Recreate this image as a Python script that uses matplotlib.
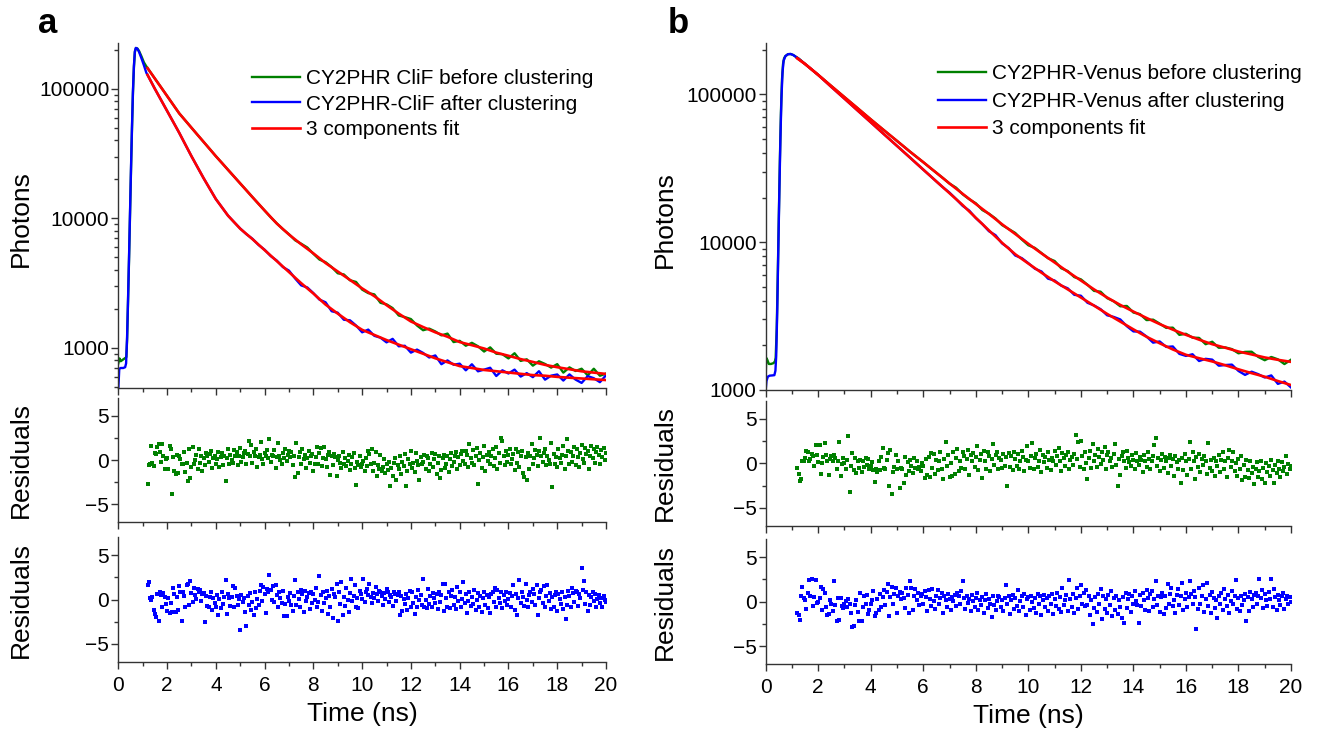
import numpy as np
import matplotlib
matplotlib.use("Agg")
import matplotlib.pyplot as plt
from matplotlib.ticker import FixedLocator, FixedFormatter, LogLocator, MultipleLocator, NullFormatter

plt.rcParams['font.family'] = ['Liberation Sans', 'DejaVu Sans']

GREEN = "#008000"
BLUE = "#0000ff"
RED = "#ff0000"

# ---------------- panel a : CY2PHR-CliF ----------------
# fit curves (ns, photons)
t_fit = [1.2, 1.5, 2.0, 2.5, 3.0, 3.5, 4.0, 4.5, 5.0, 5.5, 6.0, 6.5, 7.0, 7.5, 8.0, 8.5,
         9.0, 9.5, 10.0, 10.5, 11.0, 11.5, 12.0, 12.5, 13.0, 13.5, 14.0, 14.5, 15.0,
         15.5, 16.0, 16.5, 17.0, 17.5, 18.0, 18.5, 19.0, 19.5, 20.0]
fit_a_before = [144500, 120000, 88100, 64600, 50100, 38900, 30200, 23700, 18600, 14600,
                11500, 9120, 7500, 6310, 5370, 4520, 3890, 3350, 2880, 2510, 2140, 1840,
                1600, 1450, 1320, 1220, 1110, 1050, 990, 920, 870, 820, 780, 740, 710,
                685, 660, 645, 630]
fit_a_after = [128000, 100000, 67600, 45700, 30200, 20400, 14100, 10500, 8320, 6920, 5690,
               4680, 3850, 3160, 2630, 2160, 1840, 1580, 1380, 1260, 1150, 1060, 977, 902,
               832, 776, 724, 700, 676, 661, 646, 631, 617, 610, 598, 589, 581, 573, 565]

# measured decays: rising edge, then 0.25 ns channels from 1.25 to 20 ns
rise_t_a_before = [0.0, 0.05, 0.1, 0.2, 0.3, 0.33, 0.36, 0.40, 0.44, 0.48, 0.52, 0.56,
                   0.60, 0.64, 0.68, 0.72, 0.78, 0.85, 0.95, 1.05, 1.15]
rise_a_before = [760, 830, 790, 815, 840, 850, 1150, 2300, 4800, 10500, 23000, 48000,
                 92000, 146000, 192000, 206000, 205000, 196000, 178000, 160000, 149000]
rise_t_a_after = [0.0, 0.04, 0.1, 0.2, 0.28, 0.32, 0.36, 0.40, 0.44, 0.48, 0.52, 0.56,
                  0.60, 0.64, 0.68, 0.72, 0.78, 0.85, 0.95, 1.05, 1.15]
rise_a_after = [480, 690, 700, 700, 710, 760, 1200, 2400, 5000, 11000, 24000, 50000,
                95000, 150000, 195000, 207000, 204000, 193000, 172000, 152000, 133000]
tail_a_before = [140000, 120000, 103000, 88100, 75400, 64600, 56900, 50100, 44100, 38900,
                 34300, 30200, 26800, 23700, 21000, 18600, 16500, 14600, 12950, 11500,
                 10200, 9150, 8250,
                 7540, 6780, 6370, 5960, 5330, 4810, 4590, 4210, 3770, 3690, 3330, 3230,
                 2820, 2650, 2590, 2230, 2170, 2030, 1780, 1730, 1670, 1490, 1370, 1410,
                 1340, 1250, 1290, 1110, 1135, 1040, 1095, 1030, 938, 1010, 902, 895, 830,
                 910, 794, 817, 730, 789, 752, 705, 750, 645, 708, 664, 691, 614, 691,
                 610, 634]
tail_a_after = [122800, 100000, 82200, 67600, 55600, 45700, 37100, 30200, 24800, 20400,
                16960, 14100, 12170, 10500, 9350, 8350, 7560, 6960, 6240, 5730, 5120, 4720,
                4210,
                3950, 3440, 3040, 2930, 2650, 2360, 2250, 1920, 1870, 1650, 1634, 1490,
                1320, 1385, 1240, 1200, 1104, 1175, 1030, 1039, 920, 971, 915, 844, 875,
                749, 801, 742, 756, 672, 748, 660, 680, 703, 607, 672, 635, 680, 601, 639,
                595, 661, 569, 611, 624, 560, 625, 570, 537, 606, 584, 544, 615]

res_a_before = [
    -2.7, -0.6, -0.4, 1.6, -0.3, -0.7, 0.8, 0.7, 1.5, 1.8, 0.9, -0.2, 1.8, 0.4, -1.0, 0.1, 0.2, -1.0, 1.6, 1.2,
    -3.9, 0.3, -1.3, -1.6, 0.6, -1.5, 0.5, 0.1, -0.5, -0.4, 0.9, -1.4, -0.3, -2.4, 1.3, -2.0, -0.8, 1.5, -0.5, 0.0,
    0.6, -1.0, 1.3, -0.3, 0.5, -1.2, 0.2, -0.6, 0.8, 0.4, -0.2, 0.7, 1.0, -0.9, 0.2, 0.5, -0.4, 0.1, 0.9, -0.8,
    0.3, 0.8, -0.6, 0.5, -2.4, 0.2, 1.3, -0.4, 0.6, 0.0, -0.3, 1.1, 0.4, 0.9, -0.6, 0.5, 1.4, -0.2, 0.3, 0.8,
    1.0, -0.5, 0.7, 2.2, 0.4, 1.7, -0.3, 0.9, 0.5, 1.3, -0.8, 0.3, 0.6, 2.0, 0.1, -0.4, 0.8, 0.5, 1.1, 0.2,
    2.4, -0.2, 0.6, 0.4, 1.1, -0.9, 0.3, 1.9, 0.5, 0.0, -0.5, 0.8, 0.2, 1.2, -0.1, 0.6, 1.0, 0.3, 0.9, -0.6,
    0.4, -1.9, 1.9, -1.5, 0.3, 0.9, -0.4, 1.2, 0.1, 0.6, -0.9, 0.2, 1.0, -0.3, 0.4, 0.7, -1.2, -0.5, 0.3, 1.5,
    -0.4, 0.8, 1.4, -0.7, 0.2, 1.5, 0.1, -0.8, 0.6, 0.9, -1.7, 0.4, -0.6, 0.7, 0.3, -1.8, 0.0, 0.5, -0.3, -0.9,
    0.9, -0.4, 0.2, -0.7, -0.1, 0.6, -1.1, -0.5, 0.3, 0.8, -0.9, -2.8, -0.2, -0.6, 0.4, -0.8, -0.4, -0.1, -1.3, 0.2,
    -0.7, 1.0, 0.7, -0.5, 1.3, -1.2, -0.3, 0.9, -1.8, -0.6, -1.0, 0.6, -1.2, -0.8, 0.1, -1.5, -0.4, -1.1, -0.2, -2.9,
    -0.9, -1.8, -0.3, 0.2, -2.3, -0.6, -1.0, 0.4, -1.6, -0.2, -0.7, 0.7, -2.9, -1.2, 0.1, -0.5, 1.0, -0.9, -0.3, -1.4,
    0.8, -0.1, -0.6, -2.3, 0.3, -0.4, -0.2, 0.6, -1.0, 0.5, 0.2, -1.3, -0.5, 0.8, -0.8, 0.1, 0.7, -1.6, -0.3, 0.4,
    -2.0, -1.1, 0.2, 0.6, -0.9, -0.5, 0.4, -1.4, 0.1, 0.8, -0.7, -0.2, 0.5, 0.9, -1.0, 0.3, -0.6, 0.7, 1.0, -0.1,
    -0.4, 1.0, 0.6, -0.8, 1.8, 0.2, -0.3, 1.1, -0.6, 0.5, 1.4, -2.7, 0.0, 0.8, -0.9, 0.3, 1.6, -1.2, 0.6, -0.1,
    0.9, -0.4, 0.5, 1.2, -0.7, 0.2, 1.5, -1.0, 0.8, -0.3, 2.5, 2.1, 0.4, -0.6, 1.0, -0.2, 0.6, 1.3, -0.5, 0.1,
    0.7, -1.1, 1.2, -0.3, 0.9, -0.8, 0.4, 1.0, -1.5, -1.9, 0.3, -2.3, 0.8, -1.0, 0.5, 1.8, -0.4, 0.2, 1.1, 0.6,
    -0.7, 1.0, 2.5, 0.4, -0.2, 0.8, 1.3, -0.6, 0.5, 0.0, -0.4, 1.9, -3.1, 0.7, -0.5, 0.3, -0.8, 1.2, 0.2, -0.3,
    0.6, 1.6, -1.0, 0.4, 2.4, 1.0, -0.4, 0.9, -0.2, 0.5, 1.5, -0.6, 1.2, 0.3, -0.8, 0.8, 1.7, 0.1, -0.3, 1.4,
    0.7, 1.0, -1.0, 0.4, 1.6, 0.2, 1.2, -0.3, 0.9, 1.5, 0.6, -0.5, 1.1, 0.3, 1.4, 0.0, 0.8]
res_a_after = [
    1.6, 2.0, 0.2, -0.1, 0.3, -1.2, -1.6, -2.0, 0.6, -2.4, 0.8, 0.5, -0.8, 0.7, 0.3, -0.5, -1.3, 0.2, -1.5, -0.4,
    -1.4, 1.3, 0.6, -1.4, 0.3, -1.2, 1.5, 0.9, -2.4, 0.9, 0.4, -0.8, 1.6, 1.8, -0.6, 2.1, 0.7, -0.3, 1.3, 0.5,
    0.1, 1.2, 0.8, 1.1, -0.2, 0.6, 0.7, -2.5, 0.4, -0.7, -0.9, 0.3, 0.8, -1.2, 0.2, -0.4, -0.8, 0.5, -1.8, 0.1,
    -1.0, 0.9, -0.5, 0.3, 2.2, -1.6, 0.6, 0.2, -0.7, 0.3, 1.5, -0.9, 1.3, 0.4, -0.6, 0.1, -3.4, 0.5, -0.3, 0.2,
    -1.4, -3.0, 0.4, -0.6, 0.7, -1.2, -0.3, -1.8, 0.8, -1.0, 0.1, -0.6, 1.0, 1.6, -0.2, 1.4, 0.6, -1.5, 1.2, 0.9,
    2.8, 1.1, 0.0, 1.5, -0.3, 1.6, 0.5, -0.8, 0.9, 0.2, -0.4, 1.0, -1.9, -0.5, -1.9, 0.3, -0.2, 0.7, -0.6, -1.3,
    0.4, 2.2, -0.6, 0.8, 0.1, -0.9, 1.1, 0.6, -1.4, 1.0, -0.2, 0.3, 0.7, -1.1, 0.9, -0.4, 0.6, -0.1, 1.3, -0.8,
    -0.3, 2.6, 0.5, -1.3, 0.8, -0.4, 0.2, 1.0, -1.6, 0.4, -0.9, 1.2, -2.1, 0.6, 0.3, 1.8, -2.4, 0.9, -0.5, 2.0,
    -1.8, 0.3, -0.7, 1.3, 0.0, -1.4, 0.7, 2.3, -0.2, 0.4, 1.6, -0.8, 0.2, -1.0, 1.0, 0.6, 0.1, 2.3, -0.3, 0.9,
    1.2, 0.5, 1.8, 0.3, -0.4, 0.7, 0.2, 1.4, 0.6, -0.2, 1.0, 0.9, 0.4, -0.6, 0.7, 0.1, 1.2, 0.8, -0.3, 0.5,
    0.3, -0.7, 0.9, 0.6, -0.2, 0.5, 0.8, -1.8, 0.4, -1.3, 0.1, -0.5, 0.6, -1.2, 0.2, 1.0, -0.8, 0.9, -0.4, -1.6,
    0.3, -0.9, 1.1, -0.1, 0.5, -0.6, 2.3, -0.8, 0.0, -1.0, 1.2, -0.5, 0.4, -0.9, 0.7, 0.2, -0.4, 0.6, -1.1, 0.9,
    -0.3, 0.5, 1.8, -1.3, 1.8, 0.2, -0.8, 0.9, -1.0, 0.4, 1.1, -0.6, 0.3, -1.1, 1.4, -0.2, 0.8, -0.9, 0.1, 2.0,
    -0.4, 0.6, -1.5, -0.2, 0.9, -0.7, 0.3, -0.5, 1.1, -1.2, 0.0, 0.7, -0.9, 0.4, -1.4, 0.2, 0.8, -0.6, 0.5, -1.0,
    0.3, -1.5, 0.6, 0.9, -0.3, 1.3, -0.8, 1.1, 0.2, -0.4, 0.8, -1.0, 0.5, -0.2, 0.9, -0.6, 0.1, 0.7, -0.9, 0.4,
    1.6, -1.2, 0.6, -1.8, 0.2, 2.2, -0.4, 0.8, 0.3, -0.7, 1.8, 0.0, -0.9, 0.5, 0.9, -0.3, 1.2, 0.6, -0.6, 1.6,
    -1.7, 0.2, 0.8, 1.1, -0.4, 1.5, -0.8, 0.4, 1.6, -0.2, 0.7, -1.1, 0.3, -0.9, 0.5, 0.9, -1.3, 0.6, 0.1, -0.5,
    0.9, -1.1, 0.3, -2.2, -0.6, 1.0, 0.4, -0.8, 1.3, 0.7, -0.3, 1.0, 0.9, -0.7, 0.6, 0.2, 3.5, 1.1, 2.1, -0.5,
    0.8, -1.3, 0.5, -0.6, 0.3, 0.9, -0.2, 0.6, -0.9, 0.1, 0.5, -0.4, 0.2, -0.8, 0.4, 0.0, -0.3]

# ---------------- panel b : CY2PHR-Venus ----------------
fit_b_before = [175000, 160000, 135000, 113500, 95500, 80400, 67600, 57100, 48300, 40800,
                34700, 29400, 24900, 21200, 18100, 15500, 13200, 11350, 9730, 8390, 7280,
                6310, 5500, 4790, 4220, 3760, 3390, 3070, 2790, 2560, 2360, 2190, 2040, 1930,
                1820, 1740, 1660, 1600, 1550]
fit_b_after = [175000, 160000, 135000, 112000, 93300, 77600, 64600, 53700, 44700, 37200,
               30900, 25700, 21400, 17800, 14600, 12000, 9890, 8280, 7160, 6210, 5430, 4790,
               4220, 3720, 3270, 2900, 2570, 2290, 2070, 1880, 1730, 1640, 1560, 1470, 1380,
               1300, 1230, 1150, 1080]

rise_t_b_before = [0.0, 0.02, 0.06, 0.12, 0.2, 0.3, 0.35, 0.38, 0.42, 0.46, 0.50, 0.54,
                   0.58, 0.62, 0.66, 0.70, 0.75, 0.85, 0.95, 1.05, 1.15]
rise_b_before = [1250, 1650, 1600, 1500, 1500, 1520, 1560, 1650, 2600, 6000, 15000, 36000,
                 75000, 125000, 160000, 175000, 181000, 186500, 187000, 184000, 179000]
rise_t_b_after = [0.0, 0.03, 0.08, 0.15, 0.25, 0.33, 0.37, 0.40, 0.44, 0.48, 0.52, 0.56,
                  0.60, 0.64, 0.68, 0.75, 0.85, 0.95, 1.05, 1.15]
rise_b_after = [1000, 1150, 1230, 1250, 1255, 1260, 1350, 1700, 3500, 9000, 22000, 50000,
                95000, 140000, 168000, 181000, 186500, 187000, 184000, 179000]
tail_b_before = [174500, 160000, 147000, 135000, 123800, 113500, 104100, 95500, 87600,
                 80400, 73700, 67600, 62100, 57100, 52500, 48300, 44400, 40800, 37600, 34700,
                 31900, 29400, 27100,
                 24850, 23320, 21050, 19490, 18300, 16470, 15570, 14440, 13040, 12260,
                 11530, 10420, 9520, 9130, 8430, 7780, 7450, 6660, 6370, 5800, 5600, 5150,
                 4680, 4620, 4180, 3980, 3680, 3700, 3340, 3260, 2970, 2990, 2810, 2630,
                 2640, 2360, 2400, 2260, 2250, 2040, 2120, 1930, 1940, 1890, 1770, 1810,
                 1815, 1675, 1590, 1672, 1612, 1498, 1603]
tail_b_after = [174000, 160000, 147000, 135000, 123000, 112000, 102200, 93300, 85100, 77600,
                70800, 64600, 58900, 53700, 49000, 44700, 40800, 37200, 33900, 30900, 28200,
                25700, 23450,
                21600, 19540, 17580, 16330, 14530, 13240, 11850, 11140, 9800, 9110, 8120,
                7790, 7200, 6610, 6330, 5660, 5500, 5080, 4870, 4400, 4340, 3890, 3730, 3520,
                3200, 3120, 3000, 2700, 2490, 2480, 2300, 2090, 2130, 1955, 1970, 1755, 1700,
                1745, 1570, 1625, 1605, 1460, 1475, 1485, 1345, 1265, 1330, 1280, 1215, 1255,
                1100, 1140, 1040]

res_b_before = [
    -0.5, -1.2, -2.0, -1.8, 0.3, 0.2, 0.6, 1.4, 1.2, 0.3, 0.5, 1.0, 0.8, -0.3, 2.0, 0.9, 0.1, 2.0, -1.2, 0.0,
    0.7, 2.3, 0.9, 0.2, -1.3, 0.5, 0.8, 0.3, 0.9, 0.6, -0.6, 0.2, 2.4, -1.4, -0.1, 0.6, 0.0, -0.7, 0.4, 3.1,
    -3.2, -0.3, 1.1, -0.8, 0.6, -1.1, 0.3, -0.5, 0.4, -1.0, 0.2, -0.4, 0.6, -0.2, 0.5, -0.6, -0.3, 0.1, -0.8, -2.1,
    -0.6, -1.0, 0.3, -0.8, 0.7, 1.7, -0.5, -0.7, 0.4, 1.1, -2.6, 1.5, -3.5, -1.0, -0.4, 0.9, -0.7, 0.2, -2.8, -0.5,
    -0.7, -2.2, 0.7, -1.3, 0.1, -0.9, 0.4, -0.3, -1.1, 0.6, -0.5, 0.2, -0.7, -0.4, -0.9, 0.0, -0.3, -1.7, 0.5, -1.3,
    0.7, -1.6, 1.1, -0.5, 1.0, -1.2, 0.4, -0.8, 0.2, 1.3, -0.6, -1.8, 0.5, 2.4, -0.3, 0.9, -1.5, 0.0, -1.4, 1.2,
    -1.2, 0.6, 1.6, -0.9, 0.3, -0.5, 1.2, 0.8, -0.7, 0.5, 1.5, -1.3, 0.9, 0.2, 1.1, -0.4, 0.7, 1.9, -0.8, 0.4,
    1.0, -1.7, 1.4, 0.3, -0.6, 1.2, 0.8, -0.9, 0.5, 2.1, -0.2, 0.9, 1.3, -0.7, 0.6, 0.4, -0.5, 1.0, -0.3, 0.7,
    -2.6, 1.1, -0.4, 0.8, -0.8, 1.3, 0.5, -0.3, 1.0, -0.6, 0.2, 1.4, 0.7, -0.9, 0.4, 1.9, 0.3, -0.5, 0.8, 2.3,
    -0.7, 0.6, 1.0, -0.4, 0.3, 1.5, -1.0, 0.9, 0.1, 0.7, -0.5, 1.2, 0.4, -0.8, 0.6, 0.3, 1.4, -0.2, 0.8, 1.7,
    0.2, -0.9, 1.1, 0.6, -0.3, 0.9, 1.3, -0.6, 0.4, 0.7, -0.2, 1.0, 3.2, 0.5, 2.4, -0.4, 2.5, 0.8, -0.7, 1.2,
    0.0, -1.8, 0.6, 1.4, -0.5, 2.1, 0.3, 0.9, -0.4, 1.6, 0.7, -0.1, 1.2, 0.4, 1.8, -0.6, 0.9, 1.3, 0.2, 0.6,
    -0.4, 1.0, 2.2, -0.2, -2.6, 0.5, -1.3, 0.8, 1.3, 0.2, -0.5, 1.4, 0.6, 0.1, -0.3, 0.9, 0.4, -0.6, 1.1, 0.3,
    -0.2, 0.7, 0.4, -1.0, 0.9, 0.2, -0.4, 1.2, 0.5, -0.7, 0.3, 0.8, 2.0, 2.8, -0.3, 0.6, -0.9, 0.4, 1.0, -0.5,
    0.7, 0.2, -1.1, 0.6, 0.9, -0.3, 0.5, -1.4, 0.8, 0.1, -0.7, 0.4, -2.2, 0.6, -0.8, 1.0, 0.3, -1.3, 0.5, 2.4,
    -0.6, 1.2, 0.2, -1.8, 0.7, -0.4, 1.0, -1.0, 0.5, -0.2, 0.8, 0.3, -1.2, 2.3, -0.5, 0.4, -0.9, 0.6, -1.4, 0.2,
    -0.3, 0.9, -1.0, 0.4, 1.3, -0.7, 0.2, -1.6, 0.6, 1.5, -0.4, 0.3, 1.2, -0.9, 0.0, -1.4, 0.5, -0.6, 0.8, -1.9,
    -0.2, -1.6, 0.4, -0.8, -1.7, 0.3, -1.1, -0.4, -2.3, -0.7, 0.1, -1.5, -0.9, 0.2, -1.8, -0.5, -2.2, 0.0, -1.0, -0.3,
    -1.4, 0.4, -0.8, -2.2, -0.2, -1.1, 0.3, -0.6, -1.6, 0.1, -0.9, -0.4, 0.8, -1.2, -0.1, -0.7, -0.3]
res_b_after = [
    -1.3, -1.5, -2.0, 0.6, 1.7, 0.4, 0.2, -0.8, 1.0, 2.4, 0.6, 2.5, -0.5, 0.5, 2.4, -0.1, 0.0, 0.4, 1.7, -0.9,
    1.4, 1.0, -0.6, -1.5, -1.4, 0.2, -0.2, -1.0, 2.3, -0.4, -2.1, 0.4, -2.0, 0.4, -0.5, -0.7, -0.3, 0.1, -0.6, 0.3,
    -0.2, -1.3, -2.8, -2.7, -0.4, 0.2, -1.1, -2.2, 1.0, -2.1, -0.6, 0.6, -0.3, 0.8, -1.4, -0.9, -0.3, 0.2, 1.2, -1.6,
    -1.3, 0.3, -0.9, 0.9, -0.6, 0.5, 1.3, -0.4, 1.1, 2.0, -1.6, 0.5, 1.7, -0.2, 0.9, 1.5, -1.3, 0.7, 1.1, 0.3,
    1.0, 0.4, -0.7, 1.5, 0.8, -1.2, 2.3, 1.6, -0.9, 0.7, 1.4, 0.2, 1.0, -0.4, 0.6, 0.9, -0.3, 1.2, 0.5, -1.0,
    1.3, 0.3, -0.5, 1.4, 0.1, -0.8, 0.7, 1.3, -0.2, 0.4, 1.0, -1.2, 0.6, 0.2, -0.6, 0.9, 0.3, -0.9, 0.5, 0.1,
    0.8, -0.5, 1.0, 0.7, -0.3, 1.2, 2.3, 0.4, -0.8, 0.6, -0.1, 0.3, -1.0, 0.8, 0.1, -0.6, 0.4, 1.0, -0.9, 0.2,
    -0.4, 0.5, -1.3, 0.2, 0.9, -0.7, 0.3, -0.2, -1.7, 0.6, -0.4, -0.9, 0.1, 0.6, 0.5, -0.6, 0.2, -1.0, 0.4, 1.9,
    -0.3, 0.7, -1.4, 0.2, 0.8, -0.8, 0.4, -0.5, 1.3, -1.0, 0.1, 0.6, -0.6, 0.9, -1.5, 0.3, 0.5, -0.9, 0.7, 0.0,
    -0.7, 0.4, -1.2, 0.9, -0.3, 0.6, -1.5, 0.2, 0.8, -0.6, 0.4, -1.0, 0.7, -0.2, 0.9, -1.4, 0.3, -0.5, 1.0, -0.8,
    0.5, -1.1, 1.5, -0.4, 0.2, 0.8, -1.0, 2.4, 0.3, -0.6, 0.9, -1.3, 0.4, 1.6, -0.8, 0.6, 1.9, -0.2, 1.0, -0.5,
    1.3, -0.4, 0.7, -1.5, 0.2, -2.5, -0.7, 0.5, -1.1, 0.9, -0.3, 1.4, -1.9, 0.6, -0.8, 0.3, -1.2, 0.8, -0.4, 1.2,
    -1.6, 0.4, -0.9, 0.7, -1.4, 0.2, -0.6, -1.8, 0.5, -2.4, 1.0, -0.7, 0.3, 0.9, -1.1, 0.6, -0.2, 1.2, 0.1, -0.4,
    -2.4, 0.8, -0.5, 1.0, 0.2, -0.9, 1.3, 0.4, -1.0, 0.9, 1.2, -0.6, 0.3, 2.3, -0.4, 0.7, -1.1, 0.5, 1.0, -1.4,
    0.6, -0.7, 2.0, -0.3, 0.9, 1.5, -0.5, 0.2, -1.2, 0.8, 1.4, -0.4, 0.6, 2.1, -0.9, 0.3, 1.0, -0.6, 0.5, 2.3,
    0.9, -0.3, 1.2, 0.5, -3.0, -0.8, 1.6, -0.2, 0.7, 1.9, -1.1, 0.3, 2.1, -0.5, 0.8, -1.2, 1.1, 0.4, -0.7, 0.2,
    -1.8, 0.6, -0.2, 1.0, -0.9, 1.4, 0.3, -0.5, 0.8, -1.2, 0.1, 1.2, -0.3, 0.7, 2.4, -0.8, 0.4, -1.0, 0.6, -0.4,
    0.2, 0.9, -2.1, 0.5, -1.0, 1.1, 0.3, -0.6, 0.8, 1.0, -0.3, 0.7, 2.5, 0.4, 1.3, -0.7, 0.9, 0.2, -0.5, 1.1,
    0.3, 2.5, -0.6, 1.4, 0.5, -0.9, 0.8, 0.2, -0.4, 0.6, 1.0, -0.8, 0.3, 0.7, -0.2, 0.5, 0.0]

PANELS = [
    dict(letter="a", x0=118.3, x1=606.0, main=(42.7, 387.5), r1=(398.3, 521.7), r2=(537.3, 661.7),
         ylim=(495, 227000), lab_x=-0.175, leg=(252, 69.0), labsp=0.32, let_x=38,
         labels=["CY2PHR CliF before clustering", "CY2PHR-CliF after clustering", "3 components fit"],
         rise_before=(rise_t_a_before, rise_a_before), rise_after=(rise_t_a_after, rise_a_after),
         tail_before=tail_a_before, tail_after=tail_a_after,
         fit_before=fit_a_before, fit_after=fit_a_after,
         res_before=res_a_before, res_after=res_a_after),
    dict(letter="b", x0=765.7, x1=1291.0, main=(42.7, 390.0), r1=(400.7, 525.7), r2=(539.3, 664.3),
         ylim=(1000, 223000), lab_x=-0.17, leg=(938, 64.3), labsp=0.41, let_x=668,
         labels=["CY2PHR-Venus before clustering", "CY2PHR-Venus after clustering", "3 components fit"],
         rise_before=(rise_t_b_before, rise_b_before), rise_after=(rise_t_b_after, rise_b_after),
         tail_before=tail_b_before, tail_after=tail_b_after,
         fit_before=fit_b_before, fit_after=fit_b_after,
         res_before=res_b_before, res_after=res_b_after),
]

W, H = 1320, 736
fig = plt.figure(figsize=(W / 100, H / 100), dpi=100)


def add_axes(x0, x1, top, bottom):
    return fig.add_axes([x0 / W, 1 - bottom / H, (x1 - x0) / W, (bottom - top) / H])


def style(ax, xlabels):
    for s in ("top", "right"):
        ax.spines[s].set_visible(False)
    for s in ("left", "bottom"):
        ax.spines[s].set_linewidth(1.0)
        ax.spines[s].set_color("#333333")
    ax.set_xlim(0, 20)
    ax.xaxis.set_major_locator(MultipleLocator(2))
    ax.xaxis.set_minor_locator(MultipleLocator(1))
    ax.tick_params(which="major", direction="out", length=5, width=1, color="#333333",
                   labelsize=15)
    ax.tick_params(which="minor", direction="out", length=3, width=1, color="#333333")
    ax.tick_params(axis="y", pad=1.5)
    ax.tick_params(axis="x", pad=5, labelbottom=xlabels)


for p in PANELS:
    ax = add_axes(p["x0"], p["x1"], *p["main"])
    r1 = add_axes(p["x0"], p["x1"], *p["r1"])
    r2 = add_axes(p["x0"], p["x1"], *p["r2"])

    t_tail_b = np.linspace(1.25, 20.0, len(p["tail_before"]))
    t_tail_a = np.linspace(1.25, 20.0, len(p["tail_after"]))
    tb = np.concatenate([p["rise_before"][0], t_tail_b])
    yb = np.concatenate([p["rise_before"][1], p["tail_before"]])
    ta = np.concatenate([p["rise_after"][0], t_tail_a])
    ya = np.concatenate([p["rise_after"][1], p["tail_after"]])

    hb, = ax.plot(tb, yb, color=GREEN, lw=1.7, label=p["labels"][0])
    ha, = ax.plot(ta, ya, color=BLUE, lw=1.7, label=p["labels"][1])
    hf, = ax.plot(t_fit, p["fit_before"], color=RED, lw=1.9, label=p["labels"][2])
    ax.plot(t_fit, p["fit_after"], color=RED, lw=1.9)

    ax.set_yscale("log")
    ax.set_ylim(*p["ylim"])
    style(ax, False)
    ax.yaxis.set_major_locator(FixedLocator([1000, 10000, 100000]))
    ax.yaxis.set_major_formatter(FixedFormatter(["1000", "10000", "100000"]))
    ax.yaxis.set_minor_locator(LogLocator(base=10, subs=np.arange(2, 10)))
    ax.yaxis.set_minor_formatter(NullFormatter())
    ax.set_ylabel("Photons", fontsize=19)
    ax.yaxis.set_label_coords(p["lab_x"], 0.49)

    ax.legend(handles=[hb, ha, hf], loc="upper left",
              bbox_to_anchor=(p["leg"][0] / W, 1 - p["leg"][1] / H),
              bbox_transform=fig.transFigure, frameon=False, fontsize=15,
              handlelength=2.3, handletextpad=0.3, labelspacing=p["labsp"],
              borderpad=0, borderaxespad=0)

    for r, res, col, lbl in ((r1, p["res_before"], GREEN, False),
                             (r2, p["res_after"], BLUE, True)):
        t_res = np.linspace(1.2, 20.0, len(res))
        r.plot(t_res, res, ls="none", marker="s", ms=2.3, mew=0, color=col)
        r.set_ylim(-7, 7)
        style(r, lbl)
        r.yaxis.set_major_locator(FixedLocator([-5, 0, 5]))
        r.yaxis.set_minor_locator(FixedLocator([-2.5, 2.5]))
        r.set_ylabel("Residuals", fontsize=19)
        r.yaxis.set_label_coords(p["lab_x"], 0.5)
    r2.set_xlabel("Time (ns)", fontsize=19, labelpad=5)

    fig.text(p["let_x"] / W, 1 - 33 / H, p["letter"], fontsize=25, fontweight="bold",
             ha="left", va="baseline")

fig.savefig("out.png", dpi=100)
